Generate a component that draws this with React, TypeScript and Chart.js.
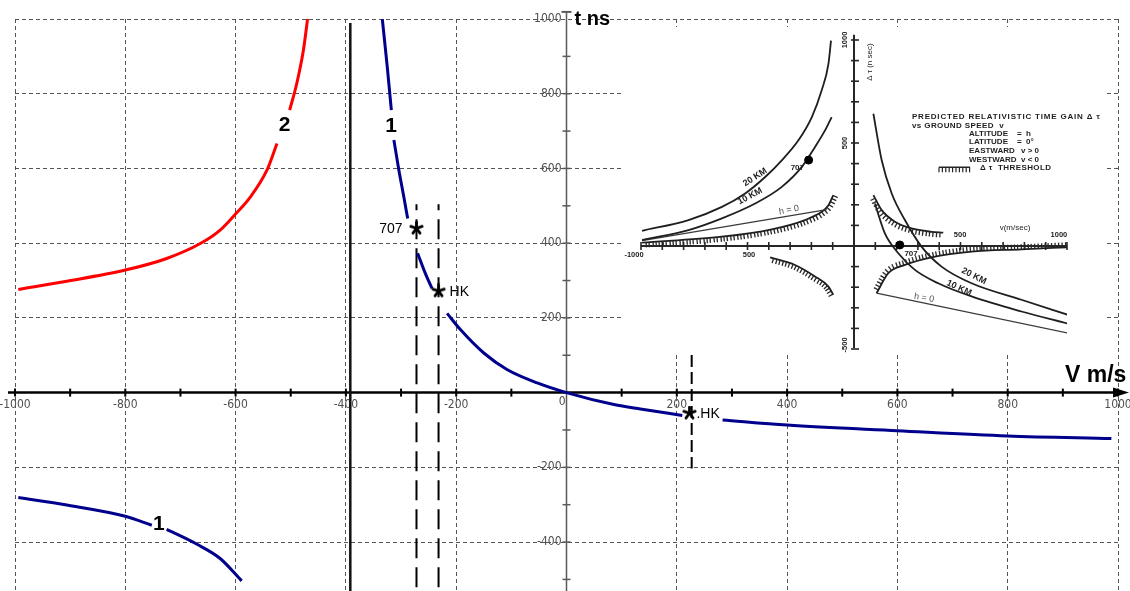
import React, { useEffect, useRef } from 'react';
import { Chart, registerables } from 'chart.js';

Chart.register(...registerables);

const W = 1130;
const H = 591;

// ================= MAIN CHART =================
const X_MIN = -1000;
const X_MAX = 1000;
const Y_MIN = -531;
const Y_MAX = 1000;
const xTickValues = [-1000, -800, -600, -400, -200, 0, 200, 400, 600, 800, 1000];
const xTickLabels = ['-1000', '-800', '-600', '-400', '-200', '0', '200', '400', '600', '800', '1000'];
const yTickValues = [1000, 800, 600, 400, 200, -200, -400];
const yTickLabels = ['1000', '800', '600', '400', '200', '-200', '-400'];
const xAxisTitle = 'V m/s';
const yAxisTitle = 't ns';

// curve "1" (blue), right branch; null = gap in the drawn line
const curve1V = [-334, -325, -317.6, null, -313, -304, -295, -288, null, -270, -256, -244, null,
  -216.5, -192, -150, -108, -53, 0, 86, 134, 210, null, 283, 400, 600, 800, 988];
const curve1T = [1000, 872, 756, null, 676, 596, 524, 466, null, 373, 319, 279, null,
  212, 168, 106, 62, 26, 0, -32, -44, -61, null, -73, -87, -102, -116, -123];

// curve "1" (blue), lower-left branch
const curve1LowV = [-994, -906, -800, -752, null, -725, -670, -628, -589];
const curve1LowT = [-281, -301, -331, -355, null, -366, -406, -444, -504];

// curve "2" (red)
const curve2V = [-994, -906, -800, -725, -664, -628, -599, -573, -543, -525, null, -502, -489, -477, -469.5];
const curve2T = [276, 298, 328, 359, 399, 435, 480, 524, 596, 667, null, 756, 828, 917, 1000];

// vertical asymptote (solid black)
const asymptoteV = -392;
const asymptoteTop = 989;

// marked flights
const markerV = [-272, -232, 223];
const markerT = [440, 272, -55];
const markerLabels = ['707', 'HK', '.HK'];
// dashed vertical marker lines: x value, top, bottom
const markerLineV = [-272, -232, 227];
const markerLineTop = [504, 504, 101];
const markerLineBottom = [Y_MIN, Y_MIN, -203];

// curve labels
const curveLabelText = ['2', '1', '1'];
const curveLabelV = [-511, -318, -739];
const curveLabelT = [716, 714, -353];

// ================= INSET (scanned figure) =================
const insetL20V = [-995, -777, -620, -511, -417, -339, -261, -198, -152, -120, -108];
const insetL20T = [74, 126, 190, 255, 335, 416, 513, 626, 755, 884, 997];
const insetL10V = [-995, -777, -620, -464, -339, -245, -183, -136, -105];
const insetL10T = [29, 77, 134, 206, 287, 384, 481, 561, 626];
const insetLH0V = [-995, -128];
const insetLH0T = [26, 177];
const insetLThrUpV = [-995, -620, -386, -230, -152, -120, -97];
const insetLThrUpT = [16, 45, 81, 126, 166, 198, 247];
const insetLThrLoV = [-394, -277, -183, -120, -97];
const insetLThrLoT = [-55, -92, -148, -197, -237];
const insetR20V = [91, 130, 177, 239, 317, 411, 552, 786, 1005];
const insetR20T = [642, 416, 255, 126, -3, -100, -181, -261, -334];
const insetR10V = [98, 145, 208, 286, 395, 552, 786, 1005];
const insetR10T = [206, 61, -35, -116, -181, -245, -318, -377];
const insetRH0V = [106, 1005];
const insetRH0T = [-229, -423];
const insetRThrUpV = [91, 130, 192, 270, 364, 419];
const insetRThrUpT = [247, 174, 118, 85, 69, 65];
const insetRThrLoV = [106, 161, 239, 364, 552, 786, 1005];
const insetRThrLoT = [-229, -132, -92, -55, -27, -16, -6];
const insetDotV = [-213, 215];
const insetDotT = [417, 5];

const insetXLabels = ['-1000', '500', '500', '1000'];
const insetXLabelV = [-1033, -493, 498, 962];
const insetXLabelT = [-44, -44, 53, 53];
const insetYLabels = ['1000', '500', '-500'];
const insetYLabelT = [1000, 500, -480];

const FONT_NARROW = '"Liberation Sans Narrow", "DejaVu Sans Condensed", "Liberation Sans", Arial, sans-serif';
const FONT_SANS = '"Liberation Sans", Arial, "DejaVu Sans", sans-serif';

function toSegments(vs: (number | null)[], ts: (number | null)[]) {
  const out: { x: number; y: number }[][] = [];
  let cur: { x: number; y: number }[] = [];
  vs.forEach((v, i) => {
    const t = ts[i];
    if (v === null || t === null) {
      if (cur.length) out.push(cur);
      cur = [];
    } else cur.push({ x: v, y: t });
  });
  if (cur.length) out.push(cur);
  return out;
}

function pts(vs: number[], ts: number[]) {
  return vs.map((v, i) => ({ x: v, y: ts[i] }));
}

function makeAsterisk(size: number, color: string, width: number) {
  const c = document.createElement('canvas');
  c.width = size;
  c.height = size;
  const ctx = c.getContext('2d')!;
  ctx.strokeStyle = color;
  ctx.lineWidth = width;
  ctx.lineCap = 'round';
  const r = size / 2 - 1.5;
  const m = size / 2;
  for (let k = 0; k < 5; k++) {
    const a = -Math.PI / 2 + (k * 2 * Math.PI) / 5;
    ctx.beginPath();
    ctx.moveTo(m, m);
    ctx.lineTo(m + r * Math.cos(a), m + r * Math.sin(a));
    ctx.stroke();
  }
  return c;
}

function drawText(ctx: CanvasRenderingContext2D, text: string, x: number, y: number, rotDeg = 0, align: CanvasTextAlign = 'left', spacing = 0) {
  ctx.save();
  ctx.translate(x, y);
  ctx.rotate((rotDeg * Math.PI) / 180);
  ctx.textAlign = align;
  ctx.textBaseline = 'middle';
  (ctx as any).letterSpacing = `${spacing}px`;
  ctx.fillText(text, 0, 0);
  ctx.restore();
}

function seg(ctx: CanvasRenderingContext2D, x1: number, y1: number, x2: number, y2: number) {
  ctx.beginPath();
  ctx.moveTo(x1, y1);
  ctx.lineTo(x2, y2);
  ctx.stroke();
}

const mainDecor = {
  id: 'mainDecor',
  beforeDraw(chart: any) {
    const { ctx } = chart;
    const x = chart.scales.x;
    const y = chart.scales.y;
    const x0 = x.getPixelForValue(0);
    const y0 = y.getPixelForValue(0);
    ctx.save();
    ctx.fillStyle = '#505050';
    ctx.font = `12px ${FONT_NARROW}`;
    ctx.textBaseline = 'middle';
    xTickValues.forEach((v, i) => {
      const px = x.getPixelForValue(v);
      if (v === 0) {
        ctx.textAlign = 'right';
        ctx.fillText(xTickLabels[i], px - 1, y0 + 9);
      } else {
        ctx.textAlign = 'center';
        ctx.fillText(xTickLabels[i], px, y0 + 12);
      }
    });
    ctx.textAlign = 'right';
    yTickValues.forEach((v, i) => ctx.fillText(yTickLabels[i], x0 - 5, y.getPixelForValue(v)));
    ctx.restore();
  },
  beforeDatasetsDraw(chart: any) {
    const { ctx } = chart;
    const x = chart.scales.x;
    const y = chart.scales.y;
    const x0 = x.getPixelForValue(0);
    const y0 = y.getPixelForValue(0);
    ctx.save();
    // y axis (thin grey)
    ctx.strokeStyle = '#5a5a5a';
    ctx.lineWidth = 1.5;
    const yTop = y.getPixelForValue(1019);
    seg(ctx, x0, yTop, x0, H);
    ctx.lineWidth = 2;
    seg(ctx, x0 - 5, yTop, x0 + 5, yTop);
    ctx.lineWidth = 1.5;
    for (let t = -500; t <= 900; t += 100) {
      if (t === 0) continue;
      const py = y.getPixelForValue(t);
      seg(ctx, x0 - 4, py, x0 + 4, py);
    }
    // x axis (thick black with arrow)
    ctx.strokeStyle = '#000';
    ctx.fillStyle = '#000';
    ctx.lineWidth = 2.5;
    seg(ctx, 8, y0, 1118, y0);
    ctx.beginPath();
    ctx.moveTo(1129, y0);
    ctx.lineTo(1113, y0 - 5);
    ctx.lineTo(1113, y0 + 5);
    ctx.closePath();
    ctx.fill();
    ctx.lineWidth = 2;
    for (let v = -1000; v <= 1000; v += 100) {
      if (v === 0) continue;
      const px = x.getPixelForValue(v);
      seg(ctx, px, y0 - 4, px, y0 + 4);
    }
    ctx.restore();
  },
  afterDatasetsDraw(chart: any) {
    const { ctx } = chart;
    const x = chart.scales.x;
    const y = chart.scales.y;
    const x0 = x.getPixelForValue(0);
    const y0 = y.getPixelForValue(0);
    ctx.save();
    ctx.fillStyle = '#000';
    ctx.font = `bold 21px ${FONT_SANS}`;
    curveLabelText.forEach((s, i) =>
      drawText(ctx, s, x.getPixelForValue(curveLabelV[i]), y.getPixelForValue(curveLabelT[i]), 0, 'center'));
    ctx.font = `14px ${FONT_SANS}`;
    drawText(ctx, markerLabels[0], x.getPixelForValue(markerV[0]) - 14, y.getPixelForValue(markerT[0]) + 1, 0, 'right');
    drawText(ctx, markerLabels[1], x.getPixelForValue(markerV[1]) + 11, y.getPixelForValue(markerT[1]) + 1, 0, 'left');
    drawText(ctx, markerLabels[2], x.getPixelForValue(markerV[2]) + 7, y.getPixelForValue(markerT[2]) + 1, 0, 'left');
    ctx.font = `bold 20px ${FONT_SANS}`;
    ctx.textAlign = 'left';
    ctx.textBaseline = 'alphabetic';
    ctx.fillText(yAxisTitle, x0 + 8, y.getPixelForValue(Y_MAX) + 6);
    ctx.font = `bold 23px ${FONT_SANS}`;
    ctx.fillText(xAxisTitle, 1065, y0 - 11);
    ctx.restore();
  },
};

// ---- hatch decoration for the threshold curves of the inset ----
function drawHatch(ctx: CanvasRenderingContext2D, points: any[], side: number, spacing = 3.4, len = 5) {
  let acc = 0;
  for (let i = 0; i < points.length - 1; i++) {
    const p0 = points[i];
    const p1 = points[i + 1];
    const c1x = p0.cp2x ?? p0.x;
    const c1y = p0.cp2y ?? p0.y;
    const c2x = p1.cp1x ?? p1.x;
    const c2y = p1.cp1y ?? p1.y;
    let px = p0.x;
    let py = p0.y;
    const N = 80;
    for (let k = 1; k <= N; k++) {
      const t = k / N;
      const mt = 1 - t;
      const bx = mt * mt * mt * p0.x + 3 * mt * mt * t * c1x + 3 * mt * t * t * c2x + t * t * t * p1.x;
      const by = mt * mt * mt * p0.y + 3 * mt * mt * t * c1y + 3 * mt * t * t * c2y + t * t * t * p1.y;
      const dx = bx - px;
      const dy = by - py;
      const d = Math.hypot(dx, dy);
      if (d > 0) {
        acc += d;
        if (acc >= spacing) {
          acc -= spacing;
          const nx = (dy / d) * side;
          const ny = (-dx / d) * side;
          seg(ctx, bx, by, bx + nx * len, by + ny * len);
        }
      }
      px = bx;
      py = by;
    }
  }
}

const insetNotes = [
  { text: '20 KM', v: -465, t: 334, rot: -33, grey: false },
  { text: '10 KM', v: -488, t: 242, rot: -28, grey: false },
  { text: '707', v: -266, t: 381, rot: 0, grey: false },
  { text: 'h = 0', v: -305, t: 174, rot: -11, grey: true },
  { text: '20 KM', v: 563, t: -146, rot: 27, grey: false },
  { text: '10 KM', v: 493, t: -204, rot: 25, grey: false },
  { text: 'h = 0', v: 329, t: -252, rot: 9, grey: true },
  { text: '707', v: 268, t: -39, rot: 0, grey: false },
];

const insetDecor = {
  id: 'insetDecor',
  beforeDatasetsDraw(chart: any) {
    const { ctx } = chart;
    const x = chart.scales.x;
    const y = chart.scales.y;
    const x0 = x.getPixelForValue(0);
    const y0 = y.getPixelForValue(0);
    ctx.save();
    ctx.strokeStyle = '#262626';
    ctx.lineWidth = 2;
    seg(ctx, x.getPixelForValue(-1000), y0, x.getPixelForValue(1000), y0);
    seg(ctx, x0, y.getPixelForValue(1025), x0, y.getPixelForValue(-495));
    ctx.lineWidth = 1.6;
    for (let v = -1000; v <= 1000; v += 100) {
      const px = x.getPixelForValue(v);
      seg(ctx, px, y0 - 4, px, y0 + 4);
    }
    for (let t = -500; t <= 1000; t += 100) {
      const py = y.getPixelForValue(t);
      seg(ctx, x0 - 3, py, x0 + 5, py);
    }
    ctx.restore();
  },
  afterDatasetsDraw(chart: any) {
    const { ctx } = chart;
    const x = chart.scales.x;
    const y = chart.scales.y;
    const X = (v: number) => x.getPixelForValue(v);
    const Y = (t: number) => y.getPixelForValue(t);
    ctx.save();
    ctx.strokeStyle = '#262626';
    ctx.lineWidth = 1.3;
    chart.data.datasets.forEach((ds: any, i: number) => {
      if (ds.hatch) drawHatch(ctx, chart.getDatasetMeta(i).data, ds.hatch);
    });
    // legend hatch sample
    const ly = Y(382);
    ctx.lineWidth = 1.5;
    seg(ctx, X(399), ly, X(545), ly);
    ctx.lineWidth = 1.2;
    for (let px = X(399); px <= X(545); px += 3.4) seg(ctx, px, ly, px, ly + 5);

    insetNotes.forEach((n) => {
      ctx.fillStyle = n.grey ? '#555' : '#1e1e1e';
      ctx.font = n.grey ? `9px ${FONT_SANS}` : `bold ${n.text === '707' ? 8 : 9}px ${FONT_SANS}`;
      drawText(ctx, n.text, X(n.v), Y(n.t), n.rot, 'center');
    });
    ctx.fillStyle = '#1e1e1e';
    ctx.font = `bold 7.5px ${FONT_SANS}`;
    insetXLabels.forEach((s, i) => drawText(ctx, s, X(insetXLabelV[i]), Y(insetXLabelT[i]), 0, 'center'));
    insetYLabels.forEach((s, i) => drawText(ctx, s, X(-42), Y(insetYLabelT[i]), -90, 'center'));
    ctx.font = `8px ${FONT_SANS}`;
    drawText(ctx, 'v(m/sec)', X(756), Y(87), 0, 'center');
    drawText(ctx, 'Δ τ (n sec)', X(75), Y(893), -90, 'center');
    ctx.font = `bold 8px ${FONT_SANS}`;
    drawText(ctx, 'PREDICTED RELATIVISTIC TIME GAIN Δ τ', X(272), Y(626), 0, 'left', 0.8);
    drawText(ctx, 'vs GROUND SPEED  v', X(272), Y(585), 0, 'left', 0.4);
    drawText(ctx, 'ALTITUDE', X(540), Y(546));
    drawText(ctx, '=  h', X(765), Y(546));
    drawText(ctx, 'LATITUDE', X(540), Y(505));
    drawText(ctx, '=  0°', X(765), Y(505));
    drawText(ctx, 'EASTWARD', X(540), Y(461));
    drawText(ctx, 'v > 0', X(784), Y(461));
    drawText(ctx, 'WESTWARD', X(540), Y(420));
    drawText(ctx, 'v < 0', X(784), Y(420));
    drawText(ctx, 'Δ τ  THRESHOLD', X(592), Y(379), 0, 'left', 0.4);
    ctx.restore();
  },
};

function lineDs(data: any[], color: string, width: number, extra: any = {}) {
  return {
    data,
    borderColor: color,
    backgroundColor: color,
    borderWidth: width,
    pointRadius: 0,
    fill: false,
    cubicInterpolationMode: 'monotone',
    ...extra,
  };
}

function mainConfig(): any {
  const star = makeAsterisk(15, '#000', 2.8);
  const datasets: any[] = [];
  datasets.push({
    data: pts(markerV, markerT),
    showLine: false,
    pointStyle: star,
    pointRadius: 7,
    borderColor: '#000',
    backgroundColor: '#000',
  });
  toSegments(curve1V, curve1T).forEach((d) => datasets.push(lineDs(d, '#00008c', 3)));
  toSegments(curve1LowV, curve1LowT).forEach((d) => datasets.push(lineDs(d, '#00008c', 3)));
  toSegments(curve2V, curve2T).forEach((d) => datasets.push(lineDs(d, '#ff0000', 3)));
  datasets.push({
    data: [{ x: asymptoteV, y: asymptoteTop }, { x: asymptoteV, y: Y_MIN }],
    borderColor: '#111',
    borderWidth: 2.5,
    pointRadius: 0,
  });
  markerLineV.forEach((v, i) =>
    datasets.push({
      data: [{ x: v, y: markerLineTop[i] }, { x: v, y: markerLineBottom[i] }],
      borderColor: '#000',
      borderWidth: 2,
      borderDash: i < 2 ? [20, 9] : [12, 5],
      borderDashOffset: i < 2 ? 14 : 0,
      pointRadius: 0,
    }),
  );
  return {
    type: 'line',
    data: { datasets },
    options: {
      animation: false,
      responsive: false,
      events: [],
      layout: { autoPadding: false, padding: { left: 15, right: 12, top: 19, bottom: 0 } },
      plugins: { legend: { display: false }, tooltip: { enabled: false } },
      scales: {
        x: {
          type: 'linear',
          min: X_MIN,
          max: X_MAX,
          ticks: { display: false, stepSize: 200, includeBounds: false, padding: 0 },
          grid: { color: '#555', lineWidth: 1, drawTicks: false },
          border: { display: false, dash: [4, 3] },
          afterFit: (s: any) => { s.height = 0; },
        },
        y: {
          type: 'linear',
          min: Y_MIN,
          max: Y_MAX,
          ticks: { display: false, stepSize: 200, includeBounds: false, padding: 0 },
          grid: { color: '#555', lineWidth: 1, drawTicks: false },
          border: { display: false, dash: [4, 3] },
          afterFit: (s: any) => { s.width = 0; },
        },
      },
    },
    plugins: [mainDecor],
  };
}

function insetConfig(): any {
  const ink = '#1e1e1e';
  const datasets: any[] = [
    {
      data: pts(insetDotV, insetDotT),
      showLine: false,
      pointRadius: 4,
      pointStyle: 'circle',
      backgroundColor: '#000',
      borderColor: '#000',
    },
    lineDs(pts(insetL20V, insetL20T), ink, 1.8),
    lineDs(pts(insetL10V, insetL10T), ink, 1.8),
    lineDs(pts(insetLH0V, insetLH0T), '#3a3a3a', 1.2, { cubicInterpolationMode: 'default' }),
    lineDs(pts(insetLThrUpV, insetLThrUpT), ink, 1.8, { hatch: -1 }),
    lineDs(pts(insetLThrLoV, insetLThrLoT), ink, 1.8, { hatch: -1 }),
    lineDs(pts(insetR20V, insetR20T), ink, 1.8),
    lineDs(pts(insetR10V, insetR10T), ink, 1.8),
    lineDs(pts(insetRH0V, insetRH0T), '#3a3a3a', 1.2, { cubicInterpolationMode: 'default' }),
    lineDs(pts(insetRThrUpV, insetRThrUpT), ink, 1.8, { hatch: -1 }),
    lineDs(pts(insetRThrLoV, insetRThrLoT), ink, 1.8, { hatch: 1 }),
  ];
  return {
    type: 'line',
    data: { datasets },
    options: {
      animation: false,
      responsive: false,
      events: [],
      layout: { autoPadding: false, padding: { left: 19, right: 39, top: 13, bottom: 5 } },
      plugins: { legend: { display: false }, tooltip: { enabled: false } },
      scales: {
        x: { type: 'linear', min: -1000, max: 1000, display: false },
        y: { type: 'linear', min: -500, max: 1000, display: false },
      },
    },
    plugins: [insetDecor],
  };
}

export default function App() {
  const mainRef = useRef<HTMLCanvasElement>(null);
  const insetRef = useRef<HTMLCanvasElement>(null);
  useEffect(() => {
    const main = new Chart(mainRef.current as HTMLCanvasElement, mainConfig());
    const inset = new Chart(insetRef.current as HTMLCanvasElement, insetConfig());
    return () => {
      main.destroy();
      inset.destroy();
    };
  }, []);
  return (
    <div style={{ position: 'absolute', left: 0, top: 0, width: W, height: H, background: '#fff', overflow: 'hidden' }}>
      <canvas ref={mainRef} width={W} height={H} style={{ position: 'absolute', left: 0, top: 0, width: W, height: H }} />
      <div style={{ position: 'absolute', left: 622, top: 27, width: 484, height: 327, background: '#fff' }}>
        <canvas ref={insetRef} width={484} height={327} style={{ display: 'block', width: 484, height: 327 }} />
      </div>
    </div>
  );
}
